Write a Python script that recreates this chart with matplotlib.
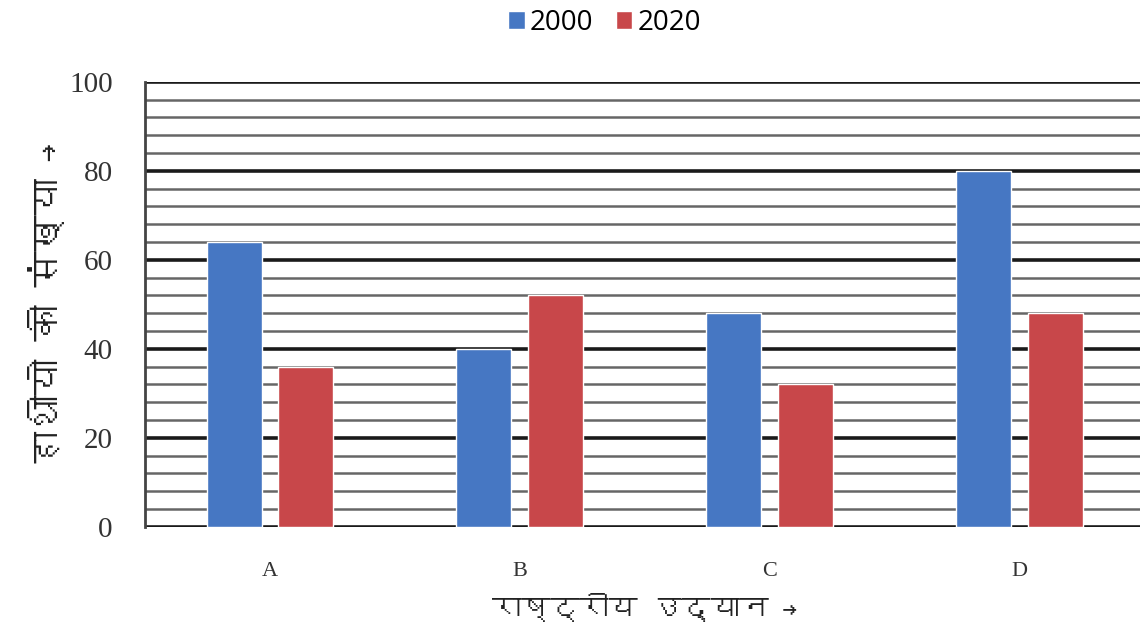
import matplotlib
matplotlib.use("Agg")
import matplotlib.pyplot as plt
import numpy as np
from matplotlib import font_manager, ft2font

# Data
parks = ['A', 'B', 'C', 'D']
years = ['2000', '2020']
elephants_2000 = [64, 40, 48, 80]
elephants_2020 = [36, 52, 32, 48]
colors = ['#4677C3', '#C8474A']

y_label = 'हाथीयो की संख्या →'
x_label = 'राष्ट्रीय उद्यान →'


# look for an installed font that has Devanagari glyphs
def find_devanagari():
    found = []
    for f in font_manager.fontManager.ttflist:
        try:
            cm = ft2font.FT2Font(f.fname).get_charmap()
        except Exception:
            continue
        if 0x0939 in cm and 0x094D in cm:
            found.append(f.name)
    return found[0] if found else None


deva = find_devanagari()
label_family = [deva, 'DejaVu Sans'] if deva else ['DejaVu Sans']

fig = plt.figure(figsize=(11.4, 6.44), dpi=100)
ax = fig.add_axes([0.127, 0.182, 0.877, 0.691])

x = np.arange(len(parks))
width = 0.22
offset = 0.143
for i, (vals, c) in enumerate(zip([elephants_2000, elephants_2020], colors)):
    ax.bar(x + (i - 0.5) * 2 * offset, vals, width, color=c, edgecolor='white',
           linewidth=1.0, zorder=3, label=years[i])

ax.set_xlim(-0.5, 3.5)
ax.set_ylim(0, 100)

# grid: thin grey lines every 4, heavy black ones every 20
for v in np.arange(0, 101, 4):
    if v % 20 == 0:
        ax.axhline(v, color='#1a1a1a', lw=2.6, zorder=1)
    else:
        ax.axhline(v, color='#666666', lw=1.8, zorder=1)

for s in ['top', 'right', 'bottom']:
    ax.spines[s].set_visible(False)
ax.spines['left'].set_color('#444444')
ax.spines['left'].set_linewidth(2)

ax.set_yticks(np.arange(0, 101, 20))
ax.set_xticks(x)
ax.set_xticklabels(parks)
ax.tick_params(axis='both', length=0, labelcolor='#333333')
ax.tick_params(axis='y', pad=23, labelsize=21)
ax.tick_params(axis='x', pad=25, labelsize=16)
for t in ax.get_xticklabels() + ax.get_yticklabels():
    t.set_family('Liberation Serif')

ax.set_ylabel(y_label, fontsize=26, family=label_family, color='#222222', labelpad=3)
ax.set_xlabel(x_label, fontsize=21, family=label_family, color='#222222', labelpad=9)

ax.legend(loc='lower center', bbox_to_anchor=(0.46, 1.045), ncol=2, frameon=False,
          handlelength=0.6, handleheight=0.6, handletextpad=0.2,
          columnspacing=0.8, prop={'family': 'Open Sans', 'size': 20})

fig.savefig('out.png', dpi=100)
